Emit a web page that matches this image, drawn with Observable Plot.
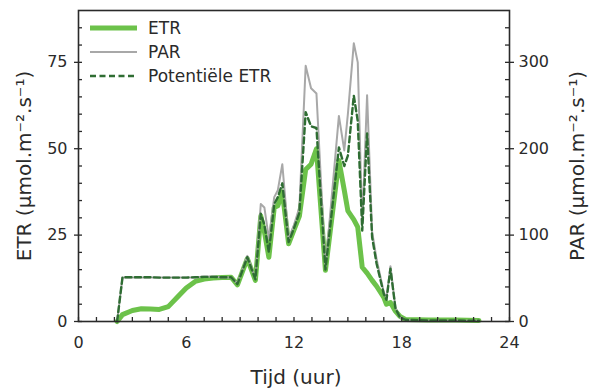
<!DOCTYPE html>
<html>
<head>
<meta charset="utf-8">
<script src="https://cdn.jsdelivr.net/npm/d3@7"></script>
<script src="https://cdn.jsdelivr.net/npm/@observablehq/plot@0.6"></script>
<style>
  html, body { margin: 0; padding: 0; background: #fff; }
  #chart { position: relative; width: 593px; height: 392px; font-family: "DejaVu Sans", sans-serif; }
  #legend { position: absolute; left: 0; top: 0; pointer-events: none; }
</style>
</head>
<body>
<div id="chart"></div>
<script>
// Time of day (hours)
const hours = [2.15, 2.45, 3.0, 3.5, 4.0, 4.5, 5.0, 5.5, 6.0, 6.5, 7.0, 7.5, 8.0, 8.5,
  8.85, 9.4, 9.85, 10.15, 10.35, 10.6, 10.9, 11.1, 11.35, 11.7, 12.0, 12.3,
  12.65, 12.95, 13.25, 13.75, 14.5, 14.8, 15.0, 15.33, 15.55, 15.8, 16.07, 16.35,
  16.6, 17.0, 17.15, 17.37, 17.65, 17.9, 18.2, 19.5, 21.0, 22.3];

// Measured electron transport rate (µmol m-2 s-1)
const etr = [0, 2.0, 3.2, 3.7, 3.6, 3.5, 4.3, 7.0, 9.7, 11.6, 12.3, 12.6, 12.7, 12.8,
  10.6, 18.2, 11.9, 30.5, 26.0, 18.6, 33.0, 33.5, 37.5, 22.5, 26.5, 30.5,
  44.0, 45.5, 50.0, 14.8, 46.6, 38.0, 32.0, 29.5, 27.3, 15.7, 14.0, 11.9,
  10.2, 7.0, 5.0, 5.5, 3.0, 1.5, 0.6, 0.4, 0.4, 0.3];

// Potential electron transport rate (µmol m-2 s-1)
const potential = [0, 12.8, 12.8, 12.8, 12.8, 12.7, 12.7, 12.7, 12.7, 12.8, 12.9, 12.9, 12.8, 12.8,
  10.8, 18.6, 12.2, 31.2, 28.0, 20.0, 34.0, 36.0, 40.0, 23.0, 27.0, 31.5,
  60.6, 56.5, 56.0, 15.0, 50.4, 45.0, 48.0, 65.4, 58.0, 26.3, 54.4, 24.4,
  16.7, 8.0, 6.3, 15.3, 3.8, 1.2, 0.5, 0.3, 0.3, 0.2];

// Photosynthetically active radiation (µmol m-2 s-1)
const par = [0, 51, 51, 51, 51, 51, 51, 51, 51, 51, 52, 52, 51, 51,
  44, 76, 50, 136, 132, 96, 144, 152, 182, 96, 112, 132,
  296, 270, 264, 62, 238, 198, 240, 322, 300, 112, 262, 104,
  72, 34, 27, 64, 16, 5, 2, 1, 1, 1];

// Right axis shows PAR; it maps onto the ETR axis at 4 PAR per ETR unit
const parPerEtr = 4;

const rows = hours.map((h, i) => ({hour: h, etr: etr[i], potential: potential[i], par: par[i]}));

const xMajor = [0, 6, 12, 18, 24];
const yMajor = [0, 25, 50, 75];
const xMinor = d3.range(0, 25, 1);
const yMinor = d3.range(0, 90, 5);

const colors = {etr: "#6cc24a", par: "#a8a8a8", potential: "#2f6d33"};
const axisColor = "#2a2a2a";

const W = 593, H = 392;
const M = {left: 78, right: 84, top: 10, bottom: 71};
const innerW = W - M.left - M.right;
const innerH = H - M.top - M.bottom;
const minorLen = 4;

const plot = Plot.plot({
  width: W,
  height: H,
  marginLeft: M.left,
  marginRight: M.right,
  marginTop: M.top,
  marginBottom: M.bottom,
  style: {fontFamily: "DejaVu Sans, sans-serif", color: axisColor, background: "transparent"},
  x: {domain: [0, 24]},
  y: {domain: [0, 90]},
  marks: [
    Plot.lineY(rows, {x: "hour", y: "etr", stroke: colors.etr, strokeWidth: 5, strokeLinejoin: "round"}),
    Plot.lineY(rows, {x: "hour", y: d => d.par / parPerEtr, stroke: colors.par, strokeWidth: 2}),
    Plot.lineY(rows, {x: "hour", y: "potential", stroke: colors.potential, strokeWidth: 2.4, strokeDasharray: "6,3.5"}),

    // minor ticks pointing into the plot
    Plot.tickX(xMinor, {x: d => d, insetTop: innerH - minorLen, stroke: axisColor, strokeWidth: 1.3}),
    Plot.tickY(yMinor, {y: d => d, insetRight: innerW - minorLen, stroke: axisColor, strokeWidth: 1.3}),
    Plot.tickY(yMinor, {y: d => d, insetLeft: innerW - minorLen, stroke: axisColor, strokeWidth: 1.3}),

    // major ticks and labels
    Plot.axisX({ticks: xMajor, tickSize: 0, tickPadding: 15, fontSize: 16, label: null}),
    Plot.axisY({anchor: "left", ticks: yMajor, tickSize: 4, tickPadding: 7, fontSize: 16, label: null, stroke: axisColor, strokeWidth: 1.3}),
    Plot.axisY({anchor: "right", ticks: yMajor, tickSize: 4, tickPadding: 5, fontSize: 16, label: null,
      tickFormat: d => d * parPerEtr, stroke: axisColor, strokeWidth: 1.3}),

    Plot.frame({stroke: axisColor, strokeWidth: 1.6}),

    // axis titles
    Plot.text(["Tijd (uur)"], {frameAnchor: "bottom", dy: 56, dx: 2, fontSize: 20, lineAnchor: "middle", textAnchor: "middle", fill: axisColor}),
    Plot.text(["ETR (µmol.m⁻².s⁻¹)"], {frameAnchor: "left", rotate: -90, dx: -54, fontSize: 20, lineAnchor: "middle", textAnchor: "middle", fill: axisColor}),
    Plot.text(["PAR (µmol.m⁻².s⁻¹)"], {frameAnchor: "right", rotate: -90, dx: 68, fontSize: 20, lineAnchor: "middle", textAnchor: "middle", fill: axisColor})
  ]
});

const chart = document.getElementById("chart");
chart.appendChild(plot);

// Legend in the upper-left corner of the plot area
const legendItems = [
  {label: "ETR", stroke: colors.etr, width: 5, dash: null},
  {label: "PAR", stroke: colors.par, width: 2, dash: null},
  {label: "Potentiële ETR", stroke: colors.potential, width: 2.4, dash: "6,3.5"}
];
const legend = d3.select(chart).append("svg")
  .attr("id", "legend")
  .attr("width", W)
  .attr("height", H);
const item = legend.selectAll("g").data(legendItems).join("g")
  .attr("transform", (d, i) => `translate(90,${28 + i * 24})`);
item.append("line")
  .attr("x1", 0).attr("x2", 47)
  .attr("stroke", d => d.stroke)
  .attr("stroke-width", d => d.width)
  .attr("stroke-dasharray", d => d.dash);
item.append("text")
  .attr("x", 58).attr("dy", "0.35em")
  .attr("font-family", "DejaVu Sans, sans-serif")
  .attr("font-size", 17)
  .attr("fill", axisColor)
  .text(d => d.label);
</script>
</body>
</html>
